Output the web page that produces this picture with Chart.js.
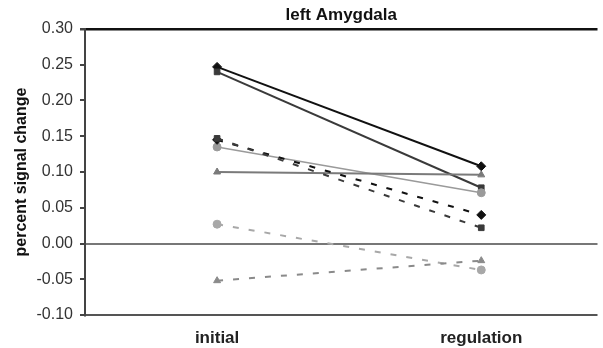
<!DOCTYPE html>
<html>
<head>
<meta charset="utf-8">
<script src="https://cdn.jsdelivr.net/npm/chart.js@4"></script>
<style>
  html, body { margin: 0; padding: 0; background: #fff; }
  #wrap { width: 603px; height: 348px; }
</style>
</head>
<body>
<div id="wrap"><canvas id="amygChart" width="603" height="348"></canvas></div>
<script>
const categories = ["initial", "regulation"];
const yTicks = [0.30, 0.25, 0.20, 0.15, 0.10, 0.05, 0.00, -0.05, -0.10];

// subjects, solid lines
const solidDiamond = [0.247, 0.108];
const solidSquare = [0.240, 0.078];
const solidCircle = [0.135, 0.071];
const solidTriangle = [0.100, 0.096];
// subjects, dashed lines
const dashedDiamond = [0.145, 0.040];
const dashedSquare = [0.147, 0.022];
const dashedCircle = [0.027, -0.037];
const dashedTriangle = [-0.052, -0.024];

const FONT = "'Liberation Sans', Arial, sans-serif";

function toPoints(values) {
  return values.map((v, i) => ({ x: i, y: v }));
}

function series(values, color, shape, dashed, width) {
  return {
    data: toPoints(values),
    borderColor: color,
    backgroundColor: color,
    borderWidth: width,
    borderDash: dashed ? [6, 10] : [],
    pointStyle: shape,
    pointRadius: shape === "rectRot" ? 4.5 : 4,
    pointBorderWidth: 1,
    fill: false,
  };
}

const ctx = document.getElementById("amygChart");

new Chart(ctx, {
  type: "line",
  data: {
    datasets: [
      series(dashedTriangle, "#8a8a8a", "triangle", true, 2),
      series(dashedCircle, "#a8a8a8", "circle", true, 2),
      series(dashedSquare, "#3a3a3a", "rect", true, 2),
      series(dashedDiamond, "#111", "rectRot", true, 2),
      series(solidTriangle, "#7a7a7a", "triangle", false, 2),
      series(solidCircle, "#9a9a9a", "circle", false, 1.5),
      series(solidSquare, "#3a3a3a", "rect", false, 2),
      series(solidDiamond, "#111", "rectRot", false, 2),
    ],
  },
  options: {
    responsive: false,
    animation: false,
    layout: { padding: { left: 0, right: 0, top: 0, bottom: 0 } },
    plugins: {
      legend: { display: false },
      tooltip: { enabled: false },
      title: {
        display: true,
        text: "left Amygdala",
        fullSize: false,
        color: "#111",
        font: { family: FONT, size: 17, weight: "bold" },
        padding: { top: 5, bottom: 3.6 },
      },
    },
    scales: {
      x: {
        type: "linear",
        min: -0.5,
        max: 1.44,
        afterBuildTicks: (scale) => {
          scale.ticks = categories.map((_, i) => ({ value: i }));
        },
        afterFit: (scale) => {
          scale.height = 33;
        },
        grid: { display: false },
        border: { display: false },
        ticks: {
          autoSkip: false,
          maxRotation: 0,
          padding: 5,
          color: "#222",
          font: { family: FONT, size: 17, weight: "bold" },
          callback: (value) => categories[value] ?? "",
        },
      },
      y: {
        min: -0.10,
        max: 0.30,
        afterBuildTicks: (scale) => {
          scale.ticks = yTicks.map((v) => ({ value: v }));
        },
        afterFit: (scale) => {
          scale.width = 85;
        },
        border: { display: true, color: "#444", width: 2 },
        grid: {
          drawTicks: true,
          tickLength: 5,
          tickColor: "#444",
          lineWidth: (c) => (c.tick && Math.abs(c.tick.value - 0.30) < 1e-9 ? 2.5 : 2),
          color: (c) => {
            if (!c.tick) return "transparent";
            const v = c.tick.value;
            if (Math.abs(v - 0.30) < 1e-9) return "#111";
            if (Math.abs(v) < 1e-9) return "#777";
            if (Math.abs(v + 0.10) < 1e-9) return "#555";
            return "transparent";
          },
        },
        ticks: {
          padding: 7,
          color: "#333",
          font: { family: FONT, size: 16 },
          callback: (value) => value.toFixed(2),
        },
        title: {
          display: true,
          text: "percent signal change",
          color: "#111",
          font: { family: FONT, size: 16, weight: "bold" },
          padding: { top: 12, bottom: 4 },
        },
      },
    },
  },
});
</script>
</body>
</html>
